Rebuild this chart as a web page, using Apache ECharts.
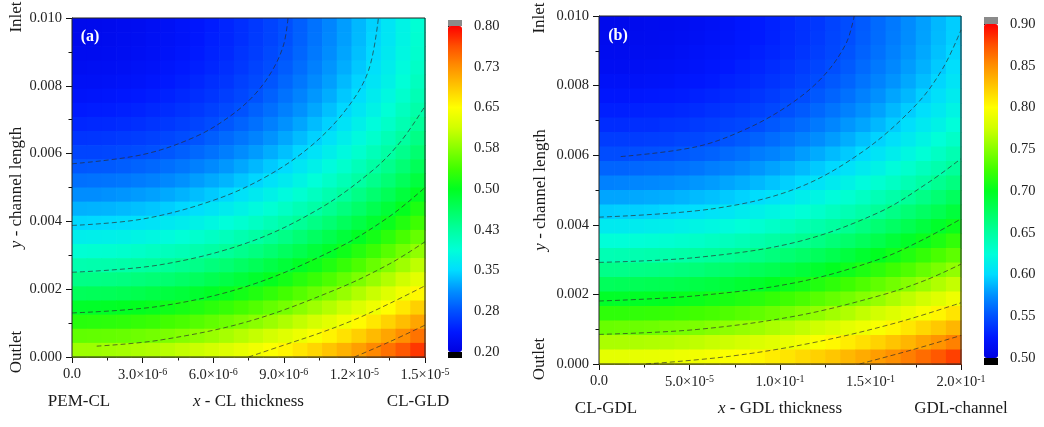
<!DOCTYPE html>
<html>
<head>
<meta charset="utf-8">
<script src="https://cdn.jsdelivr.net/npm/echarts@6/dist/echarts.min.js"></script>
<style>
  html, body { margin: 0; padding: 0; background: #fff; }
  #main { width: 1044px; height: 427px; }
</style>
</head>
<body>
<div id="main"></div>
<script>
// ---------- values ----------
// cell centres (x in m, y in m, rows listed from the inlet side down to the outlet)
const xCellsA = [3.125e-7, 9.375e-7, 1.5625e-6, 2.1875e-6, 2.8125e-6, 3.4375e-6, 4.0625e-6, 4.6875e-6,
  5.3125e-6, 5.9375e-6, 6.5625e-6, 7.1875e-6, 7.8125e-6, 8.4375e-6, 9.0625e-6, 9.6875e-6,
  1.03125e-5, 1.09375e-5, 1.15625e-5, 1.21875e-5, 1.28125e-5, 1.34375e-5, 1.40625e-5, 1.46875e-5];
const xCellsB = [4.1667e-6, 1.25e-5, 2.0833e-5, 2.9167e-5, 3.75e-5, 4.5833e-5, 5.4167e-5, 6.25e-5,
  7.0833e-5, 7.9167e-5, 8.75e-5, 9.5833e-5, 1.04167e-4, 1.125e-4, 1.20833e-4, 1.29167e-4,
  1.375e-4, 1.45833e-4, 1.54167e-4, 1.625e-4, 1.70833e-4, 1.79167e-4, 1.875e-4, 1.95833e-4];
const yCells = [0.00979167, 0.009375, 0.00895833, 0.00854167, 0.008125, 0.00770833, 0.00729167, 0.006875,
  0.00645833, 0.00604167, 0.005625, 0.00520833, 0.00479167, 0.004375, 0.00395833, 0.00354167,
  0.003125, 0.00270833, 0.00229167, 0.001875, 0.00145833, 0.00104167, 0.000625, 0.000208333];

// (a) CL
const valuesA = [
  [0.215, 0.216, 0.217, 0.219, 0.221, 0.224, 0.227, 0.231, 0.235, 0.240, 0.246, 0.252, 0.259, 0.266, 0.274, 0.284, 0.295, 0.306, 0.319, 0.332, 0.345, 0.360, 0.375, 0.390],
  [0.216, 0.217, 0.218, 0.220, 0.222, 0.225, 0.228, 0.232, 0.236, 0.242, 0.247, 0.253, 0.260, 0.267, 0.275, 0.285, 0.296, 0.308, 0.320, 0.333, 0.347, 0.361, 0.376, 0.392],
  [0.219, 0.219, 0.220, 0.222, 0.224, 0.227, 0.230, 0.234, 0.239, 0.244, 0.249, 0.256, 0.262, 0.270, 0.278, 0.288, 0.299, 0.311, 0.323, 0.336, 0.349, 0.364, 0.379, 0.394],
  [0.222, 0.223, 0.224, 0.225, 0.228, 0.230, 0.234, 0.238, 0.242, 0.247, 0.253, 0.259, 0.266, 0.273, 0.282, 0.292, 0.303, 0.315, 0.327, 0.340, 0.354, 0.368, 0.383, 0.399],
  [0.227, 0.227, 0.228, 0.230, 0.232, 0.235, 0.238, 0.242, 0.247, 0.252, 0.257, 0.264, 0.270, 0.278, 0.288, 0.298, 0.309, 0.320, 0.333, 0.346, 0.359, 0.373, 0.388, 0.404],
  [0.232, 0.233, 0.234, 0.236, 0.238, 0.241, 0.244, 0.248, 0.252, 0.257, 0.263, 0.269, 0.276, 0.285, 0.295, 0.305, 0.316, 0.327, 0.340, 0.352, 0.366, 0.380, 0.395, 0.411],
  [0.239, 0.240, 0.241, 0.243, 0.245, 0.248, 0.251, 0.255, 0.259, 0.264, 0.270, 0.276, 0.285, 0.293, 0.303, 0.313, 0.324, 0.336, 0.348, 0.361, 0.374, 0.389, 0.404, 0.419],
  [0.247, 0.248, 0.249, 0.251, 0.253, 0.256, 0.259, 0.263, 0.267, 0.272, 0.279, 0.286, 0.294, 0.303, 0.313, 0.323, 0.334, 0.345, 0.358, 0.371, 0.384, 0.398, 0.413, 0.429],
  [0.256, 0.257, 0.258, 0.260, 0.262, 0.265, 0.268, 0.272, 0.277, 0.283, 0.290, 0.297, 0.305, 0.314, 0.324, 0.334, 0.345, 0.356, 0.369, 0.382, 0.395, 0.410, 0.425, 0.440],
  [0.267, 0.267, 0.268, 0.270, 0.272, 0.275, 0.279, 0.284, 0.289, 0.295, 0.302, 0.310, 0.318, 0.327, 0.336, 0.347, 0.357, 0.369, 0.381, 0.394, 0.408, 0.422, 0.437, 0.453],
  [0.279, 0.280, 0.281, 0.283, 0.286, 0.289, 0.293, 0.298, 0.303, 0.309, 0.316, 0.324, 0.332, 0.341, 0.350, 0.361, 0.371, 0.383, 0.395, 0.408, 0.422, 0.436, 0.451, 0.467],
  [0.294, 0.295, 0.296, 0.298, 0.301, 0.304, 0.308, 0.313, 0.319, 0.325, 0.331, 0.339, 0.347, 0.356, 0.365, 0.376, 0.387, 0.398, 0.410, 0.423, 0.437, 0.451, 0.466, 0.482],
  [0.311, 0.311, 0.313, 0.315, 0.318, 0.321, 0.325, 0.330, 0.335, 0.341, 0.348, 0.356, 0.364, 0.373, 0.382, 0.392, 0.403, 0.415, 0.427, 0.440, 0.454, 0.468, 0.483, 0.499],
  [0.329, 0.330, 0.331, 0.333, 0.336, 0.339, 0.343, 0.348, 0.353, 0.359, 0.366, 0.374, 0.382, 0.391, 0.400, 0.411, 0.421, 0.433, 0.445, 0.458, 0.472, 0.486, 0.501, 0.517],
  [0.348, 0.349, 0.350, 0.352, 0.355, 0.358, 0.363, 0.367, 0.373, 0.379, 0.386, 0.393, 0.401, 0.410, 0.420, 0.430, 0.441, 0.452, 0.465, 0.478, 0.491, 0.505, 0.520, 0.536],
  [0.369, 0.370, 0.371, 0.373, 0.376, 0.379, 0.383, 0.388, 0.394, 0.400, 0.406, 0.414, 0.422, 0.431, 0.440, 0.451, 0.462, 0.473, 0.485, 0.498, 0.512, 0.526, 0.541, 0.557],
  [0.391, 0.392, 0.393, 0.395, 0.398, 0.402, 0.406, 0.410, 0.416, 0.422, 0.429, 0.436, 0.444, 0.453, 0.463, 0.473, 0.484, 0.495, 0.508, 0.521, 0.534, 0.549, 0.564, 0.579],
  [0.415, 0.416, 0.417, 0.419, 0.422, 0.425, 0.429, 0.434, 0.439, 0.446, 0.452, 0.460, 0.468, 0.477, 0.486, 0.497, 0.507, 0.519, 0.531, 0.544, 0.558, 0.572, 0.587, 0.603],
  [0.440, 0.441, 0.442, 0.444, 0.447, 0.450, 0.454, 0.459, 0.464, 0.471, 0.477, 0.485, 0.493, 0.502, 0.511, 0.522, 0.532, 0.544, 0.556, 0.569, 0.583, 0.597, 0.612, 0.628],
  [0.466, 0.467, 0.468, 0.470, 0.473, 0.477, 0.481, 0.485, 0.491, 0.497, 0.504, 0.511, 0.519, 0.528, 0.538, 0.548, 0.559, 0.570, 0.583, 0.596, 0.609, 0.624, 0.639, 0.654],
  [0.494, 0.495, 0.496, 0.498, 0.501, 0.504, 0.508, 0.513, 0.519, 0.525, 0.531, 0.539, 0.547, 0.556, 0.565, 0.576, 0.587, 0.598, 0.610, 0.623, 0.637, 0.651, 0.666, 0.682],
  [0.523, 0.524, 0.525, 0.527, 0.530, 0.533, 0.538, 0.542, 0.548, 0.554, 0.561, 0.568, 0.576, 0.585, 0.595, 0.605, 0.616, 0.627, 0.640, 0.653, 0.666, 0.680, 0.695, 0.711],
  [0.554, 0.555, 0.556, 0.558, 0.561, 0.564, 0.568, 0.573, 0.578, 0.584, 0.591, 0.599, 0.607, 0.616, 0.625, 0.636, 0.646, 0.658, 0.670, 0.683, 0.697, 0.711, 0.726, 0.742],
  [0.586, 0.586, 0.588, 0.590, 0.593, 0.596, 0.600, 0.605, 0.610, 0.616, 0.623, 0.631, 0.639, 0.648, 0.657, 0.667, 0.678, 0.690, 0.702, 0.715, 0.729, 0.743, 0.758, 0.774]
];

// (b) GDL
const valuesB = [
  [0.510, 0.510, 0.511, 0.512, 0.513, 0.514, 0.516, 0.518, 0.520, 0.523, 0.526, 0.529, 0.532, 0.536, 0.539, 0.544, 0.548, 0.554, 0.560, 0.566, 0.573, 0.580, 0.588, 0.595],
  [0.511, 0.511, 0.512, 0.513, 0.514, 0.515, 0.517, 0.519, 0.521, 0.524, 0.526, 0.529, 0.533, 0.536, 0.540, 0.545, 0.549, 0.555, 0.561, 0.567, 0.574, 0.581, 0.589, 0.596],
  [0.513, 0.513, 0.514, 0.514, 0.515, 0.517, 0.519, 0.521, 0.523, 0.525, 0.528, 0.531, 0.534, 0.538, 0.542, 0.546, 0.551, 0.557, 0.563, 0.569, 0.576, 0.583, 0.591, 0.598],
  [0.515, 0.515, 0.516, 0.517, 0.518, 0.519, 0.521, 0.523, 0.525, 0.528, 0.531, 0.534, 0.537, 0.541, 0.545, 0.549, 0.554, 0.560, 0.566, 0.572, 0.579, 0.586, 0.594, 0.602],
  [0.519, 0.519, 0.519, 0.520, 0.521, 0.523, 0.524, 0.526, 0.529, 0.531, 0.534, 0.537, 0.540, 0.544, 0.548, 0.553, 0.558, 0.564, 0.570, 0.576, 0.583, 0.590, 0.598, 0.606],
  [0.523, 0.523, 0.524, 0.525, 0.526, 0.527, 0.529, 0.531, 0.533, 0.535, 0.538, 0.541, 0.545, 0.548, 0.553, 0.558, 0.563, 0.569, 0.575, 0.582, 0.588, 0.596, 0.603, 0.611],
  [0.528, 0.528, 0.529, 0.530, 0.531, 0.532, 0.534, 0.536, 0.538, 0.540, 0.543, 0.546, 0.550, 0.554, 0.559, 0.564, 0.569, 0.575, 0.581, 0.588, 0.595, 0.602, 0.609, 0.617],
  [0.534, 0.534, 0.535, 0.535, 0.537, 0.538, 0.540, 0.542, 0.544, 0.546, 0.549, 0.553, 0.557, 0.561, 0.566, 0.571, 0.577, 0.582, 0.588, 0.595, 0.602, 0.609, 0.616, 0.624],
  [0.541, 0.541, 0.541, 0.542, 0.543, 0.545, 0.546, 0.548, 0.551, 0.554, 0.557, 0.561, 0.565, 0.569, 0.574, 0.579, 0.585, 0.591, 0.597, 0.603, 0.610, 0.617, 0.625, 0.632],
  [0.548, 0.548, 0.549, 0.550, 0.551, 0.553, 0.555, 0.557, 0.560, 0.563, 0.567, 0.570, 0.574, 0.579, 0.584, 0.589, 0.594, 0.600, 0.606, 0.612, 0.619, 0.626, 0.634, 0.642],
  [0.558, 0.558, 0.559, 0.560, 0.561, 0.563, 0.565, 0.568, 0.570, 0.573, 0.577, 0.581, 0.585, 0.589, 0.594, 0.599, 0.604, 0.610, 0.616, 0.623, 0.630, 0.637, 0.644, 0.652],
  [0.569, 0.570, 0.571, 0.572, 0.573, 0.575, 0.577, 0.579, 0.582, 0.585, 0.588, 0.592, 0.596, 0.600, 0.605, 0.610, 0.616, 0.622, 0.628, 0.634, 0.641, 0.648, 0.656, 0.663],
  [0.582, 0.582, 0.583, 0.584, 0.585, 0.587, 0.589, 0.591, 0.594, 0.597, 0.601, 0.604, 0.608, 0.613, 0.618, 0.623, 0.628, 0.634, 0.640, 0.646, 0.653, 0.660, 0.668, 0.676],
  [0.595, 0.596, 0.596, 0.597, 0.599, 0.600, 0.602, 0.605, 0.607, 0.611, 0.614, 0.618, 0.622, 0.626, 0.631, 0.636, 0.641, 0.647, 0.653, 0.660, 0.667, 0.674, 0.681, 0.689],
  [0.610, 0.610, 0.611, 0.612, 0.613, 0.615, 0.617, 0.619, 0.622, 0.625, 0.628, 0.632, 0.636, 0.641, 0.645, 0.650, 0.656, 0.662, 0.668, 0.674, 0.681, 0.688, 0.696, 0.704],
  [0.625, 0.625, 0.626, 0.627, 0.628, 0.630, 0.632, 0.635, 0.637, 0.640, 0.644, 0.648, 0.652, 0.656, 0.661, 0.666, 0.671, 0.677, 0.683, 0.690, 0.697, 0.704, 0.711, 0.719],
  [0.641, 0.642, 0.643, 0.644, 0.645, 0.647, 0.649, 0.651, 0.654, 0.657, 0.660, 0.664, 0.668, 0.672, 0.677, 0.682, 0.688, 0.694, 0.700, 0.706, 0.713, 0.720, 0.728, 0.735],
  [0.659, 0.659, 0.660, 0.661, 0.662, 0.664, 0.666, 0.669, 0.671, 0.674, 0.678, 0.681, 0.686, 0.690, 0.695, 0.700, 0.705, 0.711, 0.717, 0.724, 0.730, 0.738, 0.745, 0.753],
  [0.677, 0.678, 0.679, 0.680, 0.681, 0.683, 0.685, 0.687, 0.690, 0.693, 0.696, 0.700, 0.704, 0.708, 0.713, 0.718, 0.724, 0.730, 0.736, 0.742, 0.749, 0.756, 0.764, 0.771],
  [0.697, 0.697, 0.698, 0.699, 0.700, 0.702, 0.704, 0.707, 0.709, 0.712, 0.716, 0.720, 0.724, 0.728, 0.733, 0.738, 0.743, 0.749, 0.755, 0.762, 0.769, 0.776, 0.783, 0.791],
  [0.718, 0.718, 0.719, 0.720, 0.721, 0.723, 0.725, 0.727, 0.730, 0.733, 0.736, 0.740, 0.744, 0.749, 0.753, 0.759, 0.764, 0.770, 0.776, 0.782, 0.789, 0.796, 0.804, 0.812],
  [0.739, 0.740, 0.740, 0.741, 0.743, 0.744, 0.746, 0.749, 0.752, 0.755, 0.758, 0.762, 0.766, 0.770, 0.775, 0.780, 0.786, 0.791, 0.797, 0.804, 0.811, 0.818, 0.825, 0.833],
  [0.762, 0.762, 0.763, 0.764, 0.765, 0.767, 0.769, 0.772, 0.774, 0.777, 0.781, 0.784, 0.789, 0.793, 0.798, 0.803, 0.808, 0.814, 0.820, 0.827, 0.833, 0.841, 0.848, 0.856],
  [0.786, 0.786, 0.787, 0.788, 0.789, 0.791, 0.793, 0.795, 0.798, 0.801, 0.804, 0.808, 0.812, 0.817, 0.821, 0.826, 0.832, 0.838, 0.844, 0.850, 0.857, 0.864, 0.872, 0.880]
];

// iso-lines traced on the picture, [x, y]
const contoursA = [
  [[0, 0.0057], [3.0e-6, 0.00597], [5.25e-6, 0.0065], [6.75e-6, 0.00712], [7.8e-6, 0.00777], [8.55e-6, 0.0085], [9.0e-6, 0.00923], [9.18e-6, 0.01]],
  [[0, 0.00388], [3.0e-6, 0.00407], [6.0e-6, 0.00462], [8.25e-6, 0.00532], [1.02e-5, 0.00625], [1.17e-5, 0.00735], [1.26e-5, 0.00845], [1.302e-5, 0.01]],
  [[0, 0.0025], [3.75e-6, 0.00272], [7.5e-6, 0.00338], [1.05e-5, 0.00437], [1.275e-5, 0.00549], [1.395e-5, 0.00634], [1.5e-5, 0.0074]],
  [[0, 0.0013], [3.75e-6, 0.0015], [7.5e-6, 0.0021], [1.125e-5, 0.0032], [1.35e-5, 0.00415], [1.5e-5, 0.005]],
  [[1.05e-6, 0.00032], [3.75e-6, 0.0005], [7.5e-6, 0.00105], [1.125e-5, 0.002], [1.35e-5, 0.00275], [1.5e-5, 0.0034]],
  [[7.5e-6, 0], [9.0e-6, 0.00035], [1.05e-5, 0.0007], [1.2e-5, 0.0011], [1.35e-5, 0.00158], [1.5e-5, 0.0021]],
  [[1.2e-5, 0], [1.35e-5, 0.00045], [1.5e-5, 0.00094]]
];
const contoursB = [
  [[1.2e-5, 0.00596], [5.36e-5, 0.00624], [8.12e-5, 0.00675], [1.052e-4, 0.00745], [1.236e-4, 0.00825], [1.364e-4, 0.0092], [1.41e-4, 0.01]],
  [[0, 0.00422], [6.28e-5, 0.00446], [1.088e-4, 0.00504], [1.456e-4, 0.0061], [1.752e-4, 0.00745], [1.9e-4, 0.0085], [2.0e-4, 0.0096]],
  [[0, 0.00292], [5.36e-5, 0.00306], [1.088e-4, 0.0035], [1.548e-4, 0.00436], [1.824e-4, 0.00523], [2.0e-4, 0.0059]],
  [[0, 0.00181], [5.36e-5, 0.00196], [1.088e-4, 0.00234], [1.548e-4, 0.00301], [1.8e-4, 0.0036], [2.0e-4, 0.00417]],
  [[0, 0.00085], [5.36e-5, 0.00099], [1.088e-4, 0.00138], [1.548e-4, 0.00196], [1.8e-4, 0.0024], [2.0e-4, 0.00287]],
  [[2.6e-5, 0], [7.2e-5, 0.00022], [1.18e-4, 0.00061], [1.64e-4, 0.00118], [2.0e-4, 0.00176]],
  [[1.44e-4, 0], [1.732e-4, 0.00041], [2.0e-4, 0.00082]]
];

// axes and colour scales
const xTickLabelsA = ['0.0', '3.0×10^-6', '6.0×10^-6', '9.0×10^-6', '1.2×10^-5', '1.5×10^-5'];
const xTickLabelsB = ['0.0', '5.0×10^-5', '1.0×10^-1', '1.5×10^-1', '2.0×10^-1'];
const yTickLabels = ['0.000', '0.002', '0.004', '0.006', '0.008', '0.010'];
const barLabelsA = ['0.20', '0.28', '0.35', '0.43', '0.50', '0.58', '0.65', '0.73', '0.80'];
const barLabelsB = ['0.50', '0.55', '0.60', '0.65', '0.70', '0.75', '0.80', '0.85', '0.90'];
const rangeA = [0.2, 0.8];
const rangeB = [0.5, 0.9];
const xStepA = 3e-6, xMaxA = 1.5e-5;
const xStepB = 5e-5, xMaxB = 2e-4;
const yStep = 0.002, yMax = 0.01;

// ---------- layout / style ----------
const SERIF = '"Liberation Serif", "DejaVu Serif", serif';
const INK = '#1a1a1a';
const GA = { left: 72, top: 18, width: 353, height: 339 };
const GB = { left: 599, top: 16, width: 362, height: 348 };
const BAR_A = { left: 448, top: 26, width: 14, height: 326 };
const BAR_B = { left: 984, top: 24, width: 14, height: 334 };
const rainbow = ['#0000e0', '#0018ff', '#0050ff', '#0090ff', '#00dcff', '#00ffd8', '#00ffa0', '#00ff60',
  '#00ff20', '#40ff00', '#88ff00', '#d0ff00', '#ffff00', '#ffc800', '#ff9000', '#ff5000', '#ff0000'];

function cells(xs, ys, vals) {
  const out = [];
  ys.forEach((y, j) => xs.forEach((x, i) => out.push([x, y, vals[j][i]])));
  return out;
}

function cellRenderer(xs, ys) {
  const dx = Math.abs(xs[1] - xs[0]);
  const dy = Math.abs(ys[1] - ys[0]);
  return function (params, api) {
    const x = api.value(0), y = api.value(1);
    const p0 = api.coord([x - dx / 2, y + dy / 2]);
    const p1 = api.coord([x + dx / 2, y - dy / 2]);
    return {
      type: 'rect',
      shape: { x: p0[0], y: p0[1], width: p1[0] - p0[0] + 0.7, height: p1[1] - p0[1] + 0.7 },
      style: { fill: api.visual('color') }
    };
  };
}

// '3.0×10^-6' -> rich text with a superscript exponent
function sciFormatter(labels, step) {
  return function (val) {
    const s = labels[Math.round(val / step)];
    if (s === undefined) return '';
    const k = s.indexOf('^');
    return k < 0 ? s : s.slice(0, k) + '{sup|' + s.slice(k + 1) + '}';
  };
}

function xAxisFor(gi, max, step, labels, name, gap) {
  return {
    gridIndex: gi, type: 'value', min: 0, max: max, interval: step,
    axisLine: { show: true, onZero: false, lineStyle: { color: '#111', width: 1 } },
    axisTick: { show: true, inside: false, length: 6, lineStyle: { color: '#111' } },
    minorTick: { show: true, splitNumber: 2, length: 3.5, lineStyle: { color: '#111' } },
    splitLine: { show: false },
    axisLabel: {
      formatter: sciFormatter(labels, step), margin: 10,
      fontFamily: SERIF, fontSize: 14.5, color: '#222',
      rich: { sup: { fontFamily: SERIF, fontSize: 10, color: '#222', padding: [0, 0, 7, 0] } }
    },
    name: name, nameLocation: 'middle', nameGap: gap,
    nameTextStyle: {
      fontFamily: SERIF, fontSize: 17, color: INK,
      rich: { i: { fontFamily: SERIF, fontSize: 17, fontStyle: 'italic', color: INK } }
    }
  };
}

function yAxisFor(gi, gap) {
  return {
    gridIndex: gi, type: 'value', min: 0, max: yMax, interval: yStep,
    axisLine: { show: true, onZero: false, lineStyle: { color: '#111', width: 1 } },
    axisTick: { show: true, inside: false, length: 6, lineStyle: { color: '#111' } },
    minorTick: { show: true, splitNumber: 2, length: 3.5, lineStyle: { color: '#111' } },
    splitLine: { show: false },
    axisLabel: {
      formatter: v => yTickLabels[Math.round(v / yStep)] || '', margin: 10,
      fontFamily: SERIF, fontSize: 14.5, color: '#222'
    },
    name: '{i|y} - channel length', nameLocation: 'middle', nameGap: gap, nameRotate: 90,
    nameTextStyle: {
      fontFamily: SERIF, fontSize: 17, color: INK,
      rich: { i: { fontFamily: SERIF, fontSize: 17, fontStyle: 'italic', color: INK } }
    }
  };
}

function barAxis(gi, labels) {
  return {
    gridIndex: gi, type: 'category', data: labels, boundaryGap: false, position: 'right',
    axisLine: { show: false },
    axisTick: { show: true, inside: false, length: 5, lineStyle: { color: '#111' } },
    axisLabel: { margin: 12, fontFamily: SERIF, fontSize: 14.5, color: '#222' },
    splitLine: { show: false }
  };
}

function contourSeries(lines, gi) {
  return lines.map(pts => ({
    type: 'line', xAxisIndex: gi, yAxisIndex: gi, data: pts,
    smooth: 0.35, showSymbol: false, symbol: 'none', silent: true, z: 4,
    lineStyle: { color: '#2b2b2b', width: 0.8, type: [5, 3], opacity: 0.85 }
  }));
}

function textAt(x, y, text, rotate, extra) {
  return Object.assign({
    type: 'text', x: x, y: y, rotation: rotate ? Math.PI / 2 : 0, z: 100,
    style: { text: text, fontFamily: SERIF, fontSize: 17, fill: INK, align: 'center', verticalAlign: 'middle' }
  }, extra || {});
}

function frame(g) {
  return {
    type: 'rect', z: 90, silent: true,
    shape: { x: g.left, y: g.top, width: g.width, height: g.height },
    style: { fill: null, stroke: '#222', lineWidth: 1 }
  };
}

function caps(b, gap) {
  return [
    { type: 'rect', z: 90, shape: { x: b.left, y: b.top - gap, width: b.width, height: gap }, style: { fill: '#8a8a8a' } },
    { type: 'rect', z: 90, shape: { x: b.left, y: b.top + b.height, width: b.width, height: gap }, style: { fill: '#000' } }
  ];
}

const chart = echarts.init(document.getElementById('main'), null, { renderer: 'canvas' });

chart.setOption({
  animation: false,
  backgroundColor: '#fff',
  grid: [
    Object.assign({ show: false }, GA),
    Object.assign({ show: false }, GB),
    Object.assign({ show: false }, BAR_A),
    Object.assign({ show: false }, BAR_B)
  ],
  xAxis: [
    xAxisFor(0, xMaxA, xStepA, xTickLabelsA, '{i|x} - CL thickness', 36),
    xAxisFor(1, xMaxB, xStepB, xTickLabelsB, '{i|x} - GDL thickness', 36),
    { gridIndex: 2, type: 'value', show: false },
    { gridIndex: 3, type: 'value', show: false }
  ],
  yAxis: [
    yAxisFor(0, 46),
    yAxisFor(1, 50),
    barAxis(2, barLabelsA),
    barAxis(3, barLabelsB)
  ],
  visualMap: [
    {
      type: 'continuous', seriesIndex: 0, dimension: 2, min: rangeA[0], max: rangeA[1],
      calculable: false, hoverLink: false, orient: 'vertical', padding: 0,
      left: BAR_A.left, top: BAR_A.top, itemWidth: BAR_A.width, itemHeight: BAR_A.height,
      inRange: { color: rainbow }
    },
    {
      type: 'continuous', seriesIndex: 1, dimension: 2, min: rangeB[0], max: rangeB[1],
      calculable: false, hoverLink: false, orient: 'vertical', padding: 0,
      left: BAR_B.left, top: BAR_B.top, itemWidth: BAR_B.width, itemHeight: BAR_B.height,
      inRange: { color: rainbow }
    }
  ],
  series: [
    {
      type: 'custom', xAxisIndex: 0, yAxisIndex: 0, silent: true, z: 2,
      renderItem: cellRenderer(xCellsA, yCells),
      encode: { x: 0, y: 1 },
      data: cells(xCellsA, yCells, valuesA)
    },
    {
      type: 'custom', xAxisIndex: 1, yAxisIndex: 1, silent: true, z: 2,
      renderItem: cellRenderer(xCellsB, yCells),
      encode: { x: 0, y: 1 },
      data: cells(xCellsB, yCells, valuesB)
    }
  ].concat(contourSeries(contoursA, 0), contourSeries(contoursB, 1)),
  graphic: [
    frame(GA), frame(GB),
    ...caps(BAR_A, 6), ...caps(BAR_B, 7),
    textAt(90, 37, '(a)', false, { style: { text: '(a)', fontFamily: SERIF, fontSize: 16, fontWeight: 'bold', fill: '#fff', align: 'center', verticalAlign: 'middle' } }),
    textAt(618, 36, '(b)', false, { style: { text: '(b)', fontFamily: SERIF, fontSize: 16, fontWeight: 'bold', fill: '#fff', align: 'center', verticalAlign: 'middle' } }),
    textAt(17, 17, 'Inlet', true),
    textAt(17, 352, 'Outlet', true),
    textAt(540, 18, 'Inlet', true),
    textAt(540, 359, 'Outlet', true),
    textAt(79, 402, 'PEM-CL'),
    textAt(418, 402, 'CL-GLD'),
    textAt(606, 409, 'CL-GDL'),
    textAt(961, 409, 'GDL-channel')
  ]
});
</script>
</body>
</html>
